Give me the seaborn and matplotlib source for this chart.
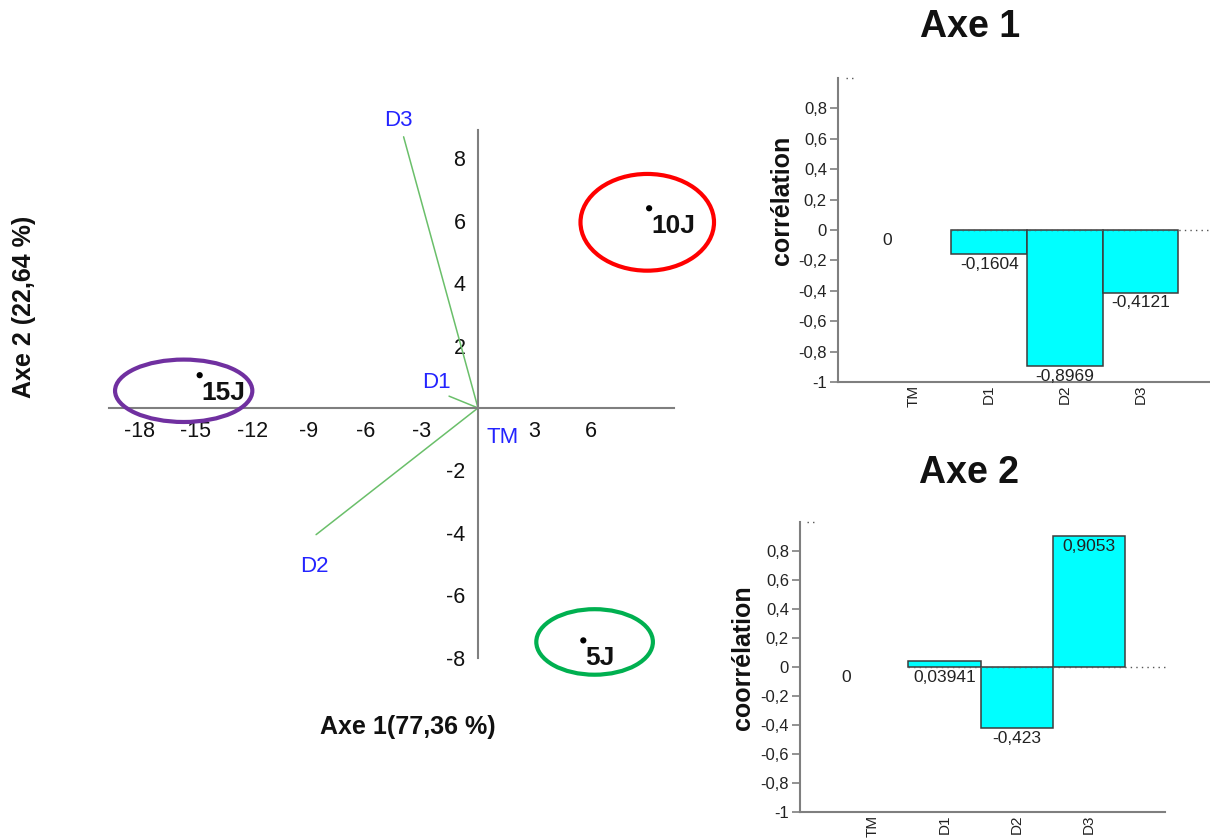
import matplotlib
matplotlib.use("Agg")
import matplotlib.pyplot as plt
from matplotlib.patches import Ellipse
import pandas as pd
import seaborn as sns

# Individuals (sampling days) on the first factorial plane
groups = ["10J", "15J", "5J"]
axe1_scores = [9.1, -14.8, 5.6]
axe2_scores = [6.4, 1.05, -7.45]

# Envelope drawn around each individual: centre, width, height (axis units)
ellipse_cx = [9.0, -15.65, 6.2]
ellipse_cy = [5.95, 0.55, -7.5]
ellipse_w = [7.1, 7.3, 6.2]
ellipse_h = [3.1, 2.0, 2.1]
ellipse_colors = ["#ff0000", "#7030a0", "#00b050"]

# Variables and their correlations with the two axes
variables = ["TM", "D1", "D2", "D3"]
corr_axe1 = [0.0, -0.1604, -0.8969, -0.4121]
corr_axe2 = [0.0, 0.03941, -0.423, 0.9053]

# Length of the variable vectors in the biplot
arrow_scale = 9.6

x_ticks = [-18, -15, -12, -9, -6, -3, 3, 6]
y_ticks = [-8, -6, -4, -2, 2, 4, 6, 8]
bar_ticks = [-1, -0.8, -0.6, -0.4, -0.2, 0, 0.2, 0.4, 0.6, 0.8]

sns.set_style("white")
plt.rcParams["font.family"] = ["Liberation Sans", "DejaVu Sans"]

W, H = 1210, 838
fig = plt.figure(figsize=(W / 100, H / 100), dpi=100)


def axes_px(left, top, right, bottom):
    return fig.add_axes([left / W, 1 - bottom / H, (right - left) / W, (bottom - top) / H])


def fr(v):
    return f"{v:.4g}".replace(".", ",")


AXIS_GREY = "#7f7f7f"

# ---------------- biplot ----------------
ax = axes_px(100, 100, 730, 690)
ax.set_xlim(-20.1, 13.4)
ax.set_ylim(-9.04, 9.87)
for s in ["top", "right"]:
    ax.spines[s].set_visible(False)
ax.spines["left"].set_position(("data", 0))
ax.spines["bottom"].set_position(("data", 0))
ax.spines["left"].set_bounds(-8, 8.9)
ax.spines["bottom"].set_bounds(-19.6, 10.4)
for s in ["left", "bottom"]:
    ax.spines[s].set_color(AXIS_GREY)
    ax.spines[s].set_linewidth(1.5)
ax.set_xticks(x_ticks)
ax.set_yticks(y_ticks)
ax.set_xticklabels([str(t) for t in x_ticks])
ax.set_yticklabels([str(t) for t in y_ticks])
ax.tick_params(axis="both", direction="out", length=7, width=1.2, color=AXIS_GREY,
               labelsize=15.5, labelcolor="#111111")
ax.tick_params(axis="x", pad=2.5)
ax.tick_params(axis="y", pad=2)

# variable vectors
label_offsets = [(18, -21), (-9, 10), (-1.5, -23), (-4, 11.5)]
for name, cx, cy, off in zip(variables, corr_axe1, corr_axe2, label_offsets):
    ex, ey = cx * arrow_scale, cy * arrow_scale
    ax.plot([0, ex], [0, ey], color="#6abf6a", lw=1.1, zorder=2)
    ax.annotate(name, (ex, ey), xytext=off, textcoords="offset points",
                ha="center", va="center", color="#2424ff", fontsize=16)

# group envelopes
for cx, cy, w, h, c in zip(ellipse_cx, ellipse_cy, ellipse_w, ellipse_h, ellipse_colors):
    ax.add_patch(Ellipse((cx, cy), w, h, fill=False, edgecolor=c, lw=3, clip_on=False, zorder=3))

# individuals
pts = pd.DataFrame({"axe1": axe1_scores, "axe2": axe2_scores, "group": groups})
sns.scatterplot(data=pts, x="axe1", y="axe2", color="black", s=20, edgecolor="none",
                legend=False, ax=ax, zorder=4)
for g, x, y in zip(groups, axe1_scores, axe2_scores):
    ax.annotate(g, (x, y), xytext=(1.5, -12.5), textcoords="offset points",
                ha="left", va="center", fontsize=19, fontweight="bold", color="#111111")
ax.set_xlabel("")
ax.set_ylabel("")

fig.text(408 / W, 1 - 727 / H, "Axe 1(77,36 %)", ha="center", va="center",
         fontsize=18, fontweight="bold", color="#111111")
fig.text(24 / W, 1 - 307 / H, "Axe 2 (22,64 %)", ha="center", va="center", rotation=90,
         fontsize=18, fontweight="bold", color="#111111")


# ---------------- correlation bar charts ----------------
def bar_panel(axb, values, xmax):
    df = pd.DataFrame({"variable": variables, "corr": values})
    sns.barplot(data=df, x="variable", y="corr", color="#00ffff", saturation=1,
                width=1.0, edgecolor="#3c3c3c", linewidth=1.1, errorbar=None, ax=axb)
    for p in axb.patches:
        if p.get_height() == 0:
            p.set_edgecolor("none")
    axb.set_xlim(-1, xmax)
    axb.set_ylim(-1, 1)
    axb.set_xlabel("")
    axb.set_ylabel("")
    for s in ["top", "right"]:
        axb.spines[s].set_visible(False)
    for s in ["left", "bottom"]:
        axb.spines[s].set_color(AXIS_GREY)
        axb.spines[s].set_linewidth(1.5)
    axb.set_yticks(bar_ticks)
    axb.set_yticklabels([fr(t) for t in bar_ticks])
    axb.tick_params(axis="y", direction="out", length=6, width=1.2, color=AXIS_GREY,
                    labelsize=12, labelcolor="#222222", pad=2, left=True)
    axb.tick_params(axis="x", length=0, labelsize=11, labelcolor="#222222",
                    labelrotation=90, pad=2)
    # dotted reference marks
    axb.plot([-0.9, -0.75], [1, 1], color="#555555", lw=1, ls=(0, (1, 3)), clip_on=False)
    axb.plot([0.5, xmax], [0, 0], color="#555555", lw=1, ls=(0, (1, 3)), zorder=5,
             clip_on=False)
    for i, v in enumerate(values):
        if v == 0:
            axb.annotate(fr(v), (i, 0), xytext=(-19, -2), textcoords="offset points",
                         ha="center", va="top", fontsize=12.5, color="#222222")
        else:
            anchor = v if abs(v) >= 0.1 else 0
            axb.annotate(fr(v), (i, anchor), xytext=(0, -2), textcoords="offset points",
                         ha="center", va="top", fontsize=12.5, color="#222222", zorder=6)


ax1 = axes_px(838, 78, 1210, 382)
bar_panel(ax1, corr_axe1, 3.92)
ax2 = axes_px(800, 522, 1165, 812)
bar_panel(ax2, corr_axe2, 4.05)

fig.text(970 / W, 1 - 27 / H, "Axe 1", ha="center", va="center", fontsize=27,
         fontweight="bold", color="#111111")
fig.text(969 / W, 1 - 473 / H, "Axe 2", ha="center", va="center", fontsize=27,
         fontweight="bold", color="#111111")
fig.text(782 / W, 1 - 200 / H, "corrélation", ha="center", va="center", rotation=90,
         fontsize=18, fontweight="bold", color="#111111")
fig.text(743 / W, 1 - 658 / H, "coorrélation", ha="center", va="center", rotation=90,
         fontsize=18, fontweight="bold", color="#111111")

fig.savefig("out.png", dpi=100, facecolor="white")
